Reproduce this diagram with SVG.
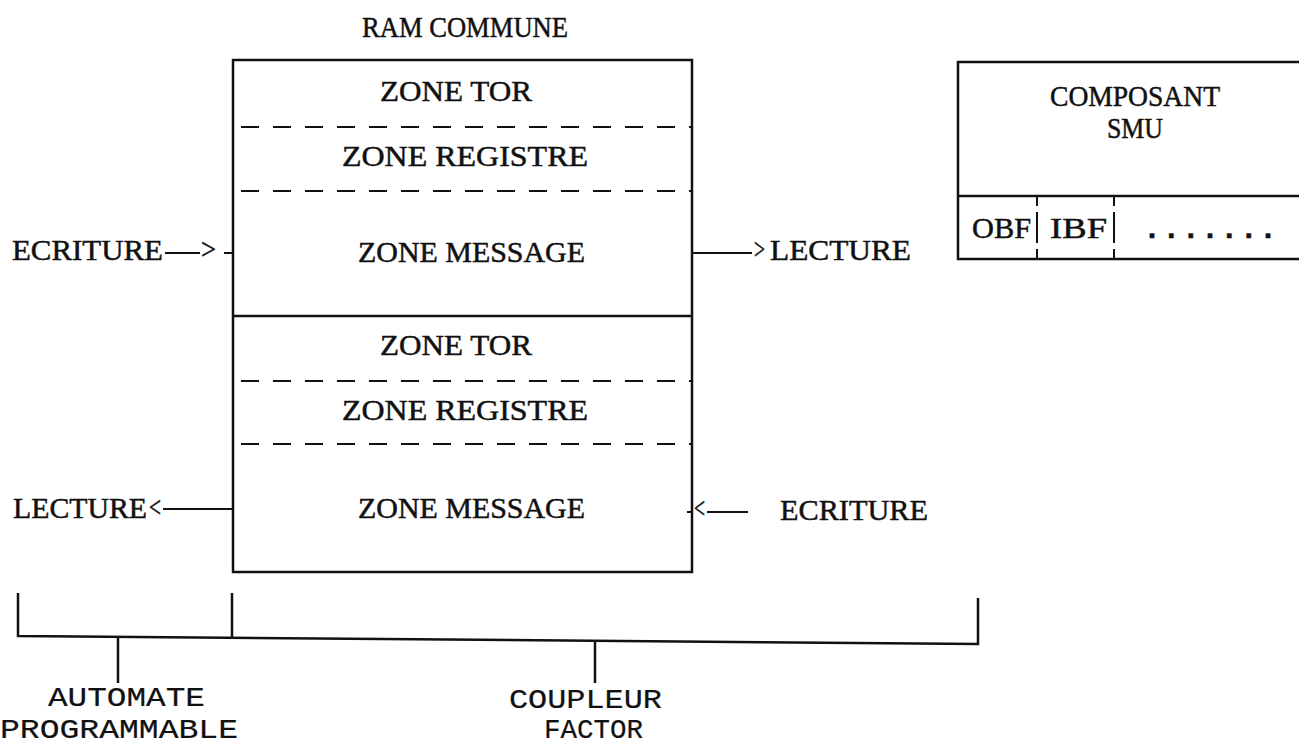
<svg xmlns="http://www.w3.org/2000/svg" width="1299" height="746" viewBox="0 0 1299 746">
<style>
text{font-family:"Liberation Serif","DejaVu Serif",serif;font-size:30px;fill:#111;stroke:#111;stroke-width:0.5}
.ln{stroke:#111;stroke-width:2.5;fill:none}
.thin{stroke:#111;stroke-width:2;fill:none}
.dash{stroke:#111;stroke-width:2;stroke-dasharray:18 14;fill:none}
.cond{font-family:"Liberation Mono","DejaVu Sans Mono",monospace;font-size:27px;stroke-width:0.2}
.dots{font-family:"Liberation Mono",monospace;font-size:30px;font-weight:bold}
</style>
<rect width="1299" height="746" fill="#fff"/>
<g id="ram">
<text x="362" y="37" textLength="206" lengthAdjust="spacingAndGlyphs">RAM COMMUNE</text>
<rect class="ln" x="233" y="60" width="459" height="512"/>
<line class="ln" x1="233" y1="316" x2="692" y2="316"/>
<line class="dash" x1="241" y1="127" x2="692" y2="127"/>
<line class="dash" x1="241" y1="191" x2="692" y2="191"/>
<line class="dash" x1="241" y1="381" x2="692" y2="381"/>
<line class="dash" x1="241" y1="444" x2="692" y2="444"/>
<text x="380" y="101" textLength="152" lengthAdjust="spacingAndGlyphs">ZONE TOR</text>
<text x="342" y="166" textLength="246" lengthAdjust="spacingAndGlyphs">ZONE REGISTRE</text>
<text x="358" y="262" textLength="227" lengthAdjust="spacingAndGlyphs">ZONE MESSAGE</text>
<text x="380" y="355" textLength="152" lengthAdjust="spacingAndGlyphs">ZONE TOR</text>
<text x="342" y="420" textLength="246" lengthAdjust="spacingAndGlyphs">ZONE REGISTRE</text>
<text x="358" y="518" textLength="227" lengthAdjust="spacingAndGlyphs">ZONE MESSAGE</text>
</g>
<g id="smu">
<path class="ln" d="M1299 62 H958 V259 H1299 M958 196 H1299"/>
<line class="thin" x1="1037" y1="196" x2="1037" y2="259" stroke-dasharray="10 6 31 6 10"/>
<line class="thin" x1="1114" y1="196" x2="1114" y2="259" stroke-dasharray="10 6 31 6 10"/>
<text x="1050" y="106" textLength="170" lengthAdjust="spacingAndGlyphs">COMPOSANT</text>
<text x="1107" y="138" textLength="56" lengthAdjust="spacingAndGlyphs">SMU</text>
<text x="972" y="238" textLength="59" lengthAdjust="spacingAndGlyphs">OBF</text>
<text x="1050" y="238" textLength="57" lengthAdjust="spacingAndGlyphs">IBF</text>
<text class="dots" x="1143" y="238" textLength="134" lengthAdjust="spacing">.......</text>
</g>
<g id="labels">
<text x="12" y="260" textLength="151" lengthAdjust="spacingAndGlyphs">ECRITURE</text>
<text x="201" y="259" font-size="22" textLength="15" lengthAdjust="spacingAndGlyphs">&gt;</text>
<text x="754" y="259" font-size="22" textLength="11" lengthAdjust="spacingAndGlyphs">&gt;</text>
<text x="770" y="260" textLength="141" lengthAdjust="spacingAndGlyphs">LECTURE</text>
<text x="13" y="518" textLength="134" lengthAdjust="spacingAndGlyphs">LECTURE</text>
<text x="149" y="517" font-size="22" textLength="12" lengthAdjust="spacingAndGlyphs">&lt;</text>
<text x="694" y="518" font-size="22" textLength="11" lengthAdjust="spacingAndGlyphs">&lt;</text>
<text x="780" y="520" textLength="148" lengthAdjust="spacingAndGlyphs">ECRITURE</text>
<text class="cond" x="48" y="706" textLength="157" lengthAdjust="spacingAndGlyphs">AUTOMATE</text>
<text class="cond" x="0" y="738" textLength="238" lengthAdjust="spacingAndGlyphs">PROGRAMMABLE</text>
<text class="cond" x="509" y="708" textLength="153" lengthAdjust="spacingAndGlyphs">COUPLEUR</text>
<text class="cond" x="544" y="738" textLength="99" lengthAdjust="spacingAndGlyphs">FACTOR</text>
</g>
<g id="connectors">
<line class="thin" x1="165" y1="253" x2="200" y2="253"/>
<line class="thin" x1="224" y1="253" x2="233" y2="253"/>
<line class="thin" x1="692" y1="253" x2="752" y2="253"/>
<line class="thin" x1="163" y1="509" x2="233" y2="509"/>
<line class="thin" x1="687" y1="512" x2="693" y2="512"/>
<line class="thin" x1="707" y1="512" x2="748" y2="512"/>
<path class="ln" d="M18 593 V636 L978 644 V598"/>
<line class="ln" x1="232" y1="593" x2="232" y2="637"/>
<line class="ln" x1="118" y1="636" x2="118" y2="683"/>
<line class="ln" x1="595" y1="640" x2="595" y2="683"/>
</g>
</svg>
